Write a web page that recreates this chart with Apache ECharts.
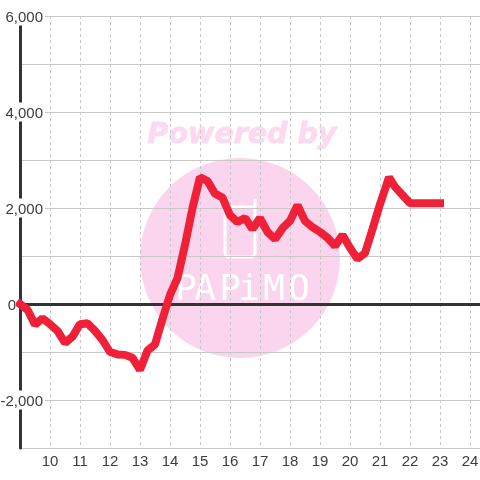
<!DOCTYPE html>
<html><head><meta charset="utf-8">
<style>html,body{margin:0;padding:0;background:#fff}#c{width:480px;height:480px}</style>
<script src="https://cdn.jsdelivr.net/npm/echarts@6/dist/echarts.min.js"></script>
</head><body><div id="c"></div>
<script>
const hours=[9,9.25,9.5,9.75,10,10.25,10.5,10.75,11,11.25,11.5,11.75,12,12.25,12.5,12.75,13,13.25,13.5,13.75,14,14.25,14.5,14.75,15,15.25,15.5,15.75,16,16.25,16.5,16.75,17,17.25,17.5,17.75,18,18.25,18.5,18.75,19,19.25,19.5,19.75,20,20.25,20.5,20.75,21,21.3,21.5,21.75,22,22.25,22.5,22.75,23];
const values=[0,-120,-430,-300,-420,-560,-810,-680,-420,-400,-560,-750,-1000,-1050,-1060,-1120,-1370,-970,-840,-310,190,540,1230,2000,2640,2560,2300,2220,1850,1710,1790,1560,1790,1500,1350,1580,1730,2060,1730,1600,1500,1380,1210,1440,1170,940,1060,1560,2080,2640,2440,2270,2100,2100,2100,2100,2100];
const labelledTicks=[6000,4000,2000,-2000];
const chart=echarts.init(document.getElementById('c'),null,{renderer:'canvas'});
const pink='#fbd5ed';
const font='"Liberation Sans"';
const logoLetters=['P','A','P','i','M','O'];
const logoX=[186,205,230,249,274,299];
chart.setOption({
 animation:false,backgroundColor:'#fff',
 grid:{left:20,right:0,top:16,bottom:32,outerBoundsMode:'none',containLabel:false},
 xAxis:{type:'value',min:9,max:24+1/3,interval:1,
  axisLine:{show:false},axisTick:{show:false},
  axisLabel:{color:'#3c3c3c',fontFamily:font,fontSize:15,margin:6,showMinLabel:false,showMaxLabel:false,hideOverlap:false},
  splitLine:{show:true,lineStyle:{color:'#c8c8c8',type:[3,3],width:1}}},
 yAxis:{type:'value',min:-3000,max:6000,interval:1000,
  axisLine:{show:true,onZero:false,lineStyle:{color:'#333',width:3}},axisTick:{show:false},
  axisLabel:{inside:true,align:'right',margin:25,
   formatter:v=>v===0?'{z|0}':labelledTicks.includes(v)?'{n|'+echarts.format.addCommas(v)+'}':'',
   rich:{
    n:{color:'#3c3c3c',fontFamily:font,fontSize:15,backgroundColor:'#fff',padding:[4,2,0,2]},
    z:{color:'#3c3c3c',fontFamily:font,fontSize:15,padding:[4,29,0,0]}}},
  splitLine:{show:true,lineStyle:{color:'#c8c8c8',width:1}}},
 graphic:{elements:[
  {type:'circle',z:-1,shape:{cx:240,cy:258,r:100},style:{fill:pink}},
  {type:'text',z:-1,x:242,y:135.5,style:{text:'Powered by',fill:'#fcd9ee',stroke:'#fcd9ee',lineWidth:0.8,font:'italic bold 28.5px "DejaVu Sans"',textAlign:'center',textVerticalAlign:'middle'}},
  {type:'rect',z:-1,shape:{x:225,y:207,width:30,height:50,r:4},style:{fill:'none',stroke:'#fff',lineWidth:3}},
  {type:'line',z:-1,shape:{x1:255,y1:207,x2:255,y2:200},style:{stroke:'#fff',lineWidth:3,lineCap:'round'}}
 ].concat(logoLetters.map((t,i)=>({type:'text',z:-1,x:logoX[i],y:291,style:{text:t,fill:'#fff',font:'36px "DejaVu Sans Mono"',textAlign:'center',textVerticalAlign:'middle'}})))},
 series:[
  {type:'line',z:5,silent:true,showSymbol:false,clip:false,data:hours.map((h,i)=>[h,values[i]]),
   lineStyle:{color:'#f02038',width:8,cap:'square',join:'bevel'},
   markLine:{silent:true,symbol:'none',label:{show:false},animation:false,lineStyle:{color:'#333',width:3,type:'solid'},data:[{yAxis:0}]}}
 ]
});
</script></body></html>
